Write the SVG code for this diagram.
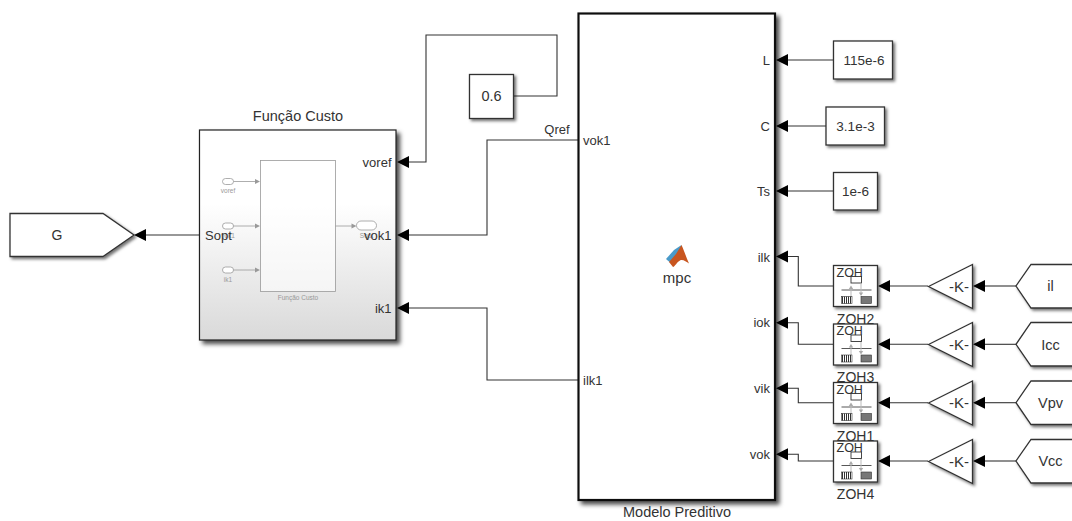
<svg xmlns="http://www.w3.org/2000/svg" width="1072" height="521" viewBox="0 0 1072 521">
<style>
text{font-family:"Liberation Sans",Arial,sans-serif;fill:#333;font-size:13px}
.m{text-anchor:middle}.e{text-anchor:end}
.b{fill:#fff;stroke:#333;stroke-width:1.3;filter:url(#sh)}
.w{fill:none;stroke:#333;stroke-width:1.1}
.a{fill:#000;stroke:none}
.g{fill:none;stroke:#999;stroke-width:.8}
.ga{fill:#999;stroke:none}
text.t{font-size:6.500px;fill:#999}
.zi{fill:none;stroke:#bbb;stroke-width:1}
.za{fill:#aaa;stroke:none}
</style>
<defs>
<linearGradient id="gr" x1="0" y1="0" x2="0" y2="1"><stop offset="0" stop-color="#fff"/><stop offset=".35" stop-color="#fff"/><stop offset="1" stop-color="#d9d9d9"/></linearGradient>
<filter id="sh" x="-15%" y="-15%" width="135%" height="135%"><feDropShadow dx="2" dy="2" stdDeviation="1.6" flood-color="#000" flood-opacity=".55"/></filter>
<filter id="sh2" x="-10%" y="-10%" width="120%" height="120%"><feDropShadow dx="3.500" dy="3.500" stdDeviation="2" flood-color="#000" flood-opacity=".7"/></filter>
<pattern id="h1" x=".5" width="2" height="4" patternUnits="userSpaceOnUse"><rect width="2" height="4" fill="#fff"/><rect width="1" height="4" fill="#333"/></pattern>
<g id="zoh">
<rect class="b" width="44" height="41"/>
<rect x="17.500" y="11" width="10.500" height="6.500" fill="#fff" stroke="#333" stroke-width=".9"/>
<path d="M8 24.500H38" stroke="#444" stroke-width=".9"/>
<path class="zi" d="M17.500 22V31M27.500 18V28"/>
<path class="za" d="M17.500 20l-2.200 3.500h4.400zM27.500 30.500l-2.200-3.500h4.400z"/>
<rect x="8" y="31" width="10.500" height="7" fill="url(#h1)" stroke="#333" stroke-width=".6"/>
<rect x="27.500" y="31" width="10.500" height="7" fill="#777" stroke="#333" stroke-width=".6"/>
<text x="3" y="11" style="font-size:12.500px">ZOH</text>
</g>
<g id="gain">
<path class="b" d="M0 22L44 0V44Z"/>
<text x="30.500" y="27" class="m" style="font-size:15px">-K-</text>
</g>
</defs>
<rect width="1072" height="521" fill="#fff"/>

<g id="connectors">
<path class="w" d="M199 235H145"/>
<path class="a" d="M134 235L146 229V241Z"/>
<path class="w" d="M513 96H557V35H426V162H407"/>
<path class="a" d="M397 162L409 156V168Z"/>
<path class="w" d="M578 140H487V235H407"/>
<path class="a" d="M397 235L409 229V241Z"/>
<path class="w" d="M578 380H487V308H407"/>
<path class="a" d="M397 308L409 302V314Z"/>
<path class="w" d="M833 60H787"/>
<path class="a" d="M776 60L788 54V66Z"/>
<path class="w" d="M826 126H787"/>
<path class="a" d="M776 126L788 120V132Z"/>
<path class="w" d="M833 191H787"/>
<path class="a" d="M776 191L788 185V197Z"/>
<path class="w" d="M787 256.500H798.300V286H833"/>
<path class="a" d="M776 256.500L788 250.500V262.500Z"/>
<path class="w" d="M787 322.700H798.300V344.300H833"/>
<path class="a" d="M776 322.700L788 316.700V328.700Z"/>
<path class="w" d="M787 388.300H798.300V402.700H833"/>
<path class="a" d="M776 388.300L788 382.300V394.300Z"/>
<path class="w" d="M787 454.300H798.300V461H833"/>
<path class="a" d="M776 454.300L788 448.300V460.300Z"/>
<path class="w" d="M928 286H889"/><path class="a" d="M878 286L890 280V292Z"/>
<path class="w" d="M928 344.300H889"/><path class="a" d="M878 344.300L890 338.300V350.300Z"/>
<path class="w" d="M928 402.700H889"/><path class="a" d="M878 402.700L890 396.700V408.700Z"/>
<path class="w" d="M928 461H889"/><path class="a" d="M878 461L890 455V467Z"/>
<path class="w" d="M1016 286H984"/><path class="a" d="M973 286L985 280V292Z"/>
<path class="w" d="M1016 344.300H984"/><path class="a" d="M973 344.300L985 338.300V350.300Z"/>
<path class="w" d="M1016 402.700H984"/><path class="a" d="M973 402.700L985 396.700V408.700Z"/>
<path class="w" d="M1016 461H984"/><path class="a" d="M973 461L985 455V467Z"/>
</g>

<g id="goto-G">
<path class="b" d="M10 213.500H103L134 235L103 256.500H10Z"/>
<text x="57" y="239.500" class="m" style="font-size:14px">G</text>
</g>

<g id="funcao-custo">
<text x="298" y="121" class="m" style="font-size:14.500px">Função Custo</text>
<rect x="199.500" y="130" width="196.500" height="210" fill="url(#gr)" stroke="#222" stroke-width="1.200" filter="url(#sh2)"/>
<rect x="260.500" y="160.500" width="75" height="131" fill="#fff" fill-opacity=".6" stroke="#999" stroke-width=".8"/>
<rect x="222.500" y="178.500" width="11" height="6" rx="3" fill="#fff" stroke="#999" stroke-width=".8"/>
<rect x="222.500" y="223" width="11" height="6" rx="3" fill="#fff" stroke="#999" stroke-width=".8"/>
<rect x="222.500" y="267" width="11" height="6" rx="3" fill="#fff" stroke="#999" stroke-width=".8"/>
<rect x="356.500" y="221" width="20" height="9" rx="4.500" fill="#fff" stroke="#999" stroke-width=".8"/>
<path class="g" d="M233.500 181.500H255M233.500 226H255M233.500 270H255M335.500 226H352"/>
<path class="ga" d="M260 181.500l-5-2.500v5zM260 226l-5-2.500v5zM260 270l-5-2.500v5zM356.500 226l-5-2.500v5z"/>
<text x="228" y="192.500" class="m t">voref</text>
<text x="228" y="237.500" class="m t">vok1</text>
<text x="228" y="282" class="m t">ik1</text>
<text x="366.500" y="237.500" class="m t">Sopt</text>
<text x="298" y="300" class="m t">Função Custo</text>
<text x="205" y="239.500">Sopt</text>
<text x="391.500" y="166.500" class="e">voref</text>
<text x="391.500" y="239.500" class="e">vok1</text>
<text x="391.500" y="312.500" class="e">ik1</text>
</g>

<g id="const-06">
<rect class="b" x="469.500" y="74.500" width="44" height="44"/>
<text x="491.500" y="100.500" class="m" style="font-size:14.500px">0.6</text>
</g>
<text x="557" y="134" class="m">Qref</text>

<g id="modelo-preditivo">
<rect x="578.500" y="13.500" width="196.500" height="486.500" fill="#fff" stroke="#111" stroke-width="2.200" filter="url(#sh2)"/>
<path d="M666 259L674 250L681.500 245L678 256L670 262.500Z" fill="#4a9ac9"/>
<path d="M669 262L676 254L681.500 245C684 250 686 257 689 263.500C686 262 683 259 680 260.500C677 262 675 266.500 673 267Z" fill="#c8551f"/>
<text x="677" y="282.500" class="m" style="font-size:15px">mpc</text>
<text x="677" y="517" class="m" style="font-size:14.500px">Modelo Preditivo</text>
<text x="583" y="145">vok1</text>
<text x="583" y="385">ilk1</text>
<text x="770" y="64.500" class="e">L</text>
<text x="770" y="130.500" class="e">C</text>
<text x="770" y="195.500" class="e">Ts</text>
<text x="770" y="261.500" class="e">ilk</text>
<text x="770" y="327" class="e">iok</text>
<text x="770" y="393" class="e">vik</text>
<text x="770" y="459" class="e">vok</text>
</g>

<g id="const-L"><rect class="b" x="833.500" y="41" width="59" height="38"/><text x="864" y="64.500" class="m" style="font-size:13.500px">115e-6</text></g>
<g id="const-C"><rect class="b" x="826" y="107" width="58.500" height="38"/><text x="855.500" y="131" class="m" style="font-size:13.500px">3.1e-3</text></g>
<g id="const-Ts"><rect class="b" x="833.500" y="172.500" width="44" height="37.500"/><text x="855.500" y="196" class="m" style="font-size:13.500px">1e-6</text></g>

<g id="ZOH2"><use href="#zoh" x="833.500" y="265.500"/></g>
<g id="ZOH3"><use href="#zoh" x="833.500" y="324"/></g>
<g id="ZOH1"><use href="#zoh" x="833.500" y="382.500"/></g>
<g id="ZOH4"><use href="#zoh" x="833.500" y="441"/></g>
<text x="855.500" y="323.500" class="m" style="font-size:14px">ZOH2</text>
<text x="855.500" y="382" class="m" style="font-size:14px">ZOH3</text>
<text x="855.500" y="440.500" class="m" style="font-size:14px">ZOH1</text>
<text x="855.500" y="499" class="m" style="font-size:14px">ZOH4</text>

<g id="gain1"><use href="#gain" x="928.500" y="264.500"/></g>
<g id="gain2"><use href="#gain" x="928.500" y="322.500"/></g>
<g id="gain3"><use href="#gain" x="928.500" y="381"/></g>
<g id="gain4"><use href="#gain" x="928.500" y="439.500"/></g>

<g id="from-il"><path class="b" d="M1080 264.500H1031L1016 286L1031 308H1080"/><text x="1050.500" y="291" class="m" style="font-size:14.500px">il</text></g>
<g id="from-Icc"><path class="b" d="M1080 322.500H1031L1016 344.300L1031 366H1080"/><text x="1050.500" y="349.500" class="m" style="font-size:14.500px">Icc</text></g>
<g id="from-Vpv"><path class="b" d="M1080 381H1031L1016 402.700L1031 424.500H1080"/><text x="1050.500" y="408" class="m" style="font-size:14.500px">Vpv</text></g>
<g id="from-Vcc"><path class="b" d="M1080 439.500H1031L1016 461L1031 483H1080"/><text x="1050.500" y="466" class="m" style="font-size:14.500px">Vcc</text></g>
</svg>
